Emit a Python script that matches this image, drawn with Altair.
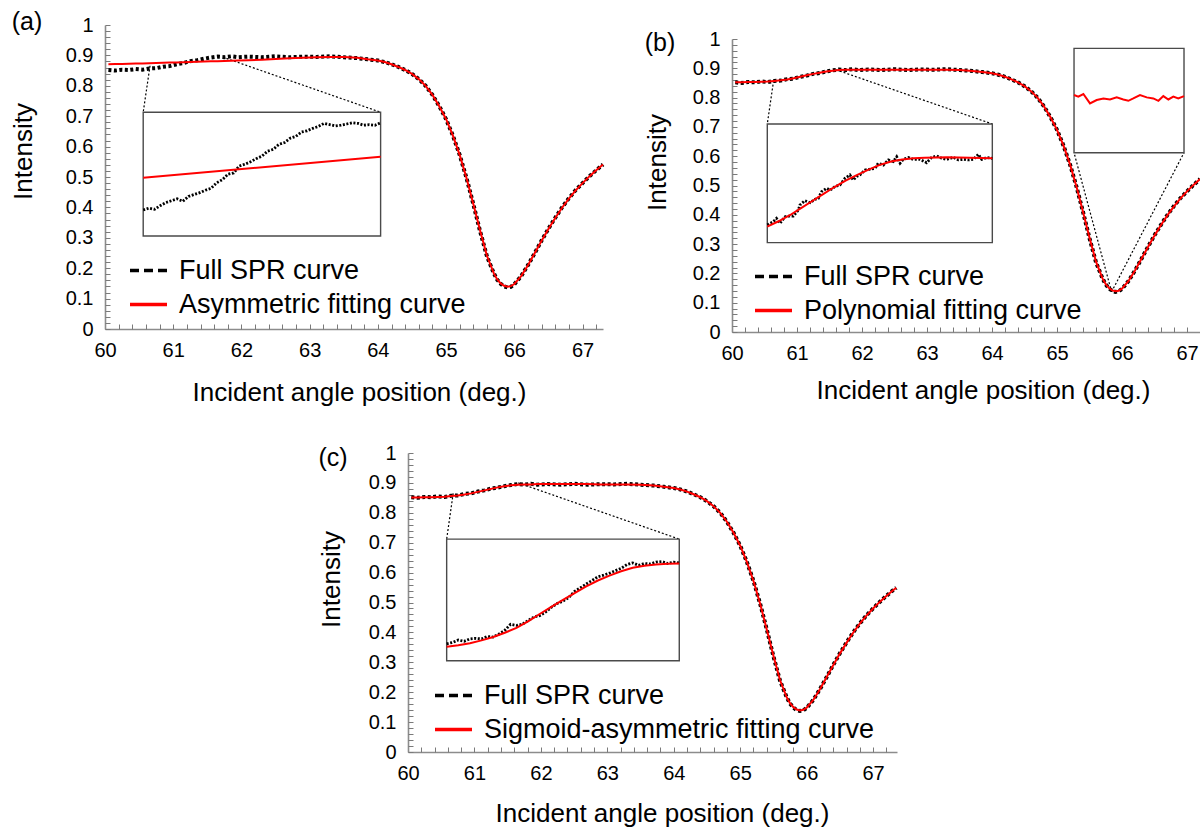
import altair as alt
import pandas as pd

W, H = 1200, 828
FONT = "Liberation Sans"
GREY = "#8c8c8c"
TICK_GREY = "#7a7a7a"
RED = "#ff0000"
SPR_LABEL = "Full SPR curve"

# ---------------- measured SPR reflectance curve (shared by all panels) -------------
ANGLE = [60.05, 60.15, 60.25, 60.35, 60.45, 60.55, 60.65, 60.75, 60.85, 60.95,
         61.05, 61.15, 61.25, 61.35, 61.45, 61.55, 61.65, 61.75, 61.85, 61.95,
         62.1, 62.3, 62.5, 62.7, 62.9, 63.1, 63.3, 63.5, 63.7,
         63.85, 64.0,
         64.1, 64.2, 64.3, 64.4, 64.5, 64.6, 64.7, 64.8, 64.9, 65.0,
         65.1, 65.2, 65.3, 65.4, 65.5, 65.6, 65.7,
         65.75, 65.8, 65.85, 65.9, 65.95, 66.0,
         66.1, 66.2, 66.3, 66.4, 66.5, 66.6, 66.7, 66.8, 66.9, 67.0, 67.1, 67.2, 67.3,
         67.35]

SPR = [0.852, 0.850, 0.853, 0.852, 0.855, 0.853, 0.857, 0.858, 0.863, 0.865,
       0.871, 0.875, 0.881, 0.884, 0.889, 0.893, 0.896, 0.894, 0.897, 0.894,
       0.896, 0.894, 0.897, 0.894, 0.896, 0.895, 0.897, 0.894, 0.891,
       0.887, 0.883,
       0.878, 0.871, 0.862, 0.852, 0.839, 0.822, 0.800, 0.770, 0.733, 0.690,
       0.636, 0.572, 0.496, 0.410, 0.320, 0.238, 0.183,
       0.162, 0.149, 0.140, 0.137, 0.139, 0.147,
       0.174, 0.210, 0.250, 0.291, 0.330, 0.366, 0.400, 0.430, 0.457, 0.480, 0.502, 0.522, 0.541,
       0.549]

FIT_ASYM = [0.871, 0.8715, 0.872, 0.8725, 0.873, 0.8737, 0.8744, 0.875, 0.8757, 0.8764,
            0.877, 0.8777, 0.8784, 0.879, 0.8797, 0.8804, 0.881, 0.8817, 0.8824, 0.883,
            0.884, 0.886, 0.888, 0.8905, 0.8925, 0.894, 0.8948, 0.8945, 0.892,
            0.887, 0.883,
            0.878, 0.871, 0.862, 0.852, 0.839, 0.822, 0.800, 0.770, 0.733, 0.690,
            0.636, 0.572, 0.496, 0.410, 0.322, 0.240, 0.183,
            0.163, 0.150, 0.142, 0.139, 0.141, 0.148,
            0.174, 0.210, 0.250, 0.290, 0.329, 0.365, 0.399, 0.429, 0.456, 0.480, 0.502, 0.522, 0.541,
            0.549]

FIT_POLY = [0.852, 0.852, 0.853, 0.853, 0.854, 0.855, 0.857, 0.859, 0.862, 0.866,
            0.871, 0.876, 0.881, 0.885, 0.889, 0.892, 0.894, 0.895, 0.895, 0.895,
            0.895, 0.895, 0.895, 0.895, 0.895, 0.895, 0.895, 0.894, 0.891,
            0.887, 0.883,
            0.878, 0.871, 0.862, 0.852, 0.839, 0.822, 0.800, 0.770, 0.733, 0.690,
            0.636, 0.572, 0.496, 0.410, 0.322, 0.240, 0.183,
            0.163, 0.150, 0.142, 0.139, 0.141, 0.148,
            0.174, 0.210, 0.250, 0.290, 0.329, 0.365, 0.399, 0.429, 0.456, 0.480, 0.502, 0.522, 0.541,
            0.549]

FIT_SIGMOID = [0.851, 0.851, 0.852, 0.852, 0.853, 0.854, 0.856, 0.858, 0.861, 0.865,
               0.870, 0.875, 0.880, 0.885, 0.889, 0.892, 0.894, 0.895, 0.895, 0.896,
               0.896, 0.896, 0.896, 0.896, 0.895, 0.895, 0.895, 0.894, 0.891,
               0.887, 0.883,
               0.878, 0.871, 0.862, 0.852, 0.839, 0.822, 0.800, 0.770, 0.733, 0.690,
               0.636, 0.572, 0.496, 0.410, 0.322, 0.240, 0.183,
               0.163, 0.150, 0.142, 0.139, 0.141, 0.148,
               0.174, 0.210, 0.250, 0.290, 0.329, 0.365, 0.399, 0.429, 0.456, 0.480, 0.502, 0.522, 0.541,
               0.549]

# ---------------- zoomed rising edge, panel (a) ----------------
ZA_ANGLE = [60.650, 60.675, 60.700, 60.725, 60.750, 60.775, 60.800, 60.825, 60.850, 60.875,
            60.900, 60.925, 60.950, 60.975, 61.000, 61.025, 61.050, 61.075, 61.100, 61.125,
            61.150, 61.175, 61.200, 61.225, 61.250, 61.275, 61.300, 61.325, 61.350, 61.375,
            61.400, 61.425, 61.450, 61.475, 61.500, 61.525, 61.550, 61.575, 61.600, 61.625,
            61.650, 61.675, 61.700]
ZA_SPR = [0.8526, 0.8535, 0.8529, 0.8547, 0.8562, 0.8571, 0.8580, 0.8568, 0.8592, 0.8601,
          0.8610, 0.8622, 0.8631, 0.8658, 0.8673, 0.8700, 0.8706, 0.8739, 0.8748, 0.8760,
          0.8775, 0.8787, 0.8811, 0.8820, 0.8844, 0.8853, 0.8874, 0.8883, 0.8904, 0.8910,
          0.8922, 0.8931, 0.8946, 0.8940, 0.8934, 0.8937, 0.8943, 0.8949, 0.8946, 0.8937,
          0.8940, 0.8937, 0.8949]
ZA_FIT_ANGLE = [60.65, 61.70]
ZA_FIT = [0.8682, 0.8784]

# ---------------- zoomed rising edge, panel (b) ----------------
ZB_ANGLE = [60.600, 60.627, 60.641, 60.656, 60.679, 60.701, 60.716, 60.738, 60.745, 60.767,
            60.790, 60.812, 60.827, 60.841, 60.864, 60.879, 60.901, 60.923, 60.945, 60.967,
            60.982, 60.997, 61.012, 61.034, 61.056, 61.079, 61.093, 61.116, 61.138, 61.160,
            61.175, 61.190, 61.204, 61.227, 61.249, 61.279, 61.308, 61.330, 61.353, 61.375,
            61.397, 61.427, 61.449, 61.471, 61.493, 61.516, 61.538, 61.553, 61.575, 61.600]
ZB_SPR = [0.8577, 0.8595, 0.8613, 0.8586, 0.8622, 0.8626, 0.8626, 0.8659, 0.8686, 0.8710,
          0.8699, 0.8717, 0.8723, 0.8759, 0.8778, 0.8768, 0.8787, 0.8796, 0.8832, 0.8851,
          0.8823, 0.8842, 0.8851, 0.8878, 0.8882, 0.8887, 0.8915, 0.8905, 0.8933, 0.8924,
          0.8951, 0.8915, 0.8936, 0.8946, 0.8936, 0.8936, 0.8918, 0.8946, 0.8955, 0.8942,
          0.8936, 0.8947, 0.8933, 0.8936, 0.8933, 0.8936, 0.8964, 0.8936, 0.8946, 0.8942]
ZB_FIT_ANGLE = [60.60, 60.65, 60.70, 60.75, 60.80, 60.85, 60.90, 60.95, 61.00, 61.05, 61.10,
                61.15, 61.20, 61.25, 61.30, 61.35, 61.40, 61.45, 61.50, 61.55, 61.60]
ZB_FIT = [0.8568, 0.8597, 0.8630, 0.8669, 0.8708, 0.8747, 0.8786, 0.8821, 0.8851, 0.8880, 0.8906,
          0.8924, 0.8935, 0.8942, 0.8945, 0.8947, 0.8948, 0.8947, 0.8945, 0.8943, 0.8942]
ZB_TICKS = [0.8568, 0.8723, 0.8878, 0.9033]

# polynomial fit around the resonance minimum, panel (b)
ZM_ANGLE = [65.8000, 65.8039, 65.8085, 65.8145, 65.8206, 65.8267, 65.8327, 65.8388, 65.8448, 65.8494,
            65.8539, 65.8600, 65.8661, 65.8721, 65.8767, 65.8812, 65.8858, 65.8903, 65.8948, 65.9000]
ZM_FIT = [0.14021, 0.14015, 0.14025, 0.13989, 0.14002, 0.14008, 0.14004, 0.14012, 0.14004, 0.13999,
          0.14008, 0.14021, 0.14012, 0.14008, 0.13999, 0.14017, 0.14004, 0.14015, 0.14008, 0.14017]

# ---------------- zoomed rising edge, panel (c) ----------------
ZC_ANGLE = [60.700, 60.725, 60.750, 60.775, 60.800, 60.825, 60.850, 60.875, 60.900, 60.925,
            60.950, 60.975, 61.000, 61.025, 61.050, 61.075, 61.100, 61.125, 61.150, 61.175,
            61.200, 61.225, 61.250, 61.275, 61.300, 61.325, 61.350, 61.375, 61.400, 61.425,
            61.450, 61.475, 61.500, 61.525, 61.550, 61.575, 61.600, 61.625, 61.650, 61.675,
            61.700]
ZC_SPR = [0.8571, 0.8578, 0.8591, 0.8584, 0.8597, 0.8600, 0.8597, 0.8610, 0.8607, 0.8623,
          0.8643, 0.8675, 0.8669, 0.8675, 0.8695, 0.8714, 0.8721, 0.8740, 0.8766, 0.8786,
          0.8799, 0.8818, 0.8851, 0.8870, 0.8890, 0.8909, 0.8929, 0.8938, 0.8948, 0.8961,
          0.8974, 0.8994, 0.9003, 0.8990, 0.9000, 0.8997, 0.9007, 0.9010, 0.9000, 0.9007,
          0.9003]
ZC_FIT_ANGLE = [60.70, 60.75, 60.80, 60.85, 60.90, 60.95, 61.00, 61.05, 61.10, 61.15, 61.20,
                61.25, 61.30, 61.35, 61.40, 61.45, 61.50, 61.55, 61.60, 61.65, 61.70]
ZC_FIT = [0.8555, 0.8563, 0.8574, 0.8589, 0.8607, 0.8630, 0.8656, 0.8691, 0.8730, 0.8768, 0.8805,
          0.8842, 0.8877, 0.8909, 0.8935, 0.8958, 0.8977, 0.8988, 0.8995, 0.8998, 0.9000]

X_MAJOR = [60, 61, 62, 63, 64, 65, 66, 67]
Y_MAJOR = [round(0.1 * i, 1) for i in range(11)]
Y_MINOR = [round(0.02 * i, 2) for i in range(51)]

# ---------------- panel geometry ----------------
PANELS = [
    dict(tag="(a)", tag_xy=(27, 22), xdom=(60, 67.3), xrng=(105, 603), yrng=(329, 25),
         fit=FIT_ASYM, fit_label="Asymmetric fitting curve",
         xtitle_xy=(359, 392), ytitle_xy=(23, 151), legend_xy=(128, 250),
         insets=[dict(box=(60.56, 64.04, 0.306, 0.713), dom_x=(60.65, 61.70), dom_y=(0.84, 0.90),
                      spr=(ZA_ANGLE, ZA_SPR), fit=(ZA_FIT_ANGLE, ZA_FIT), ticks=None,
                      links=[(60.66, 0.866, 60.56, 0.713), (61.78, 0.890, 64.04, 0.713)])]),
    dict(tag="(b)", tag_xy=(660, 43), xdom=(60, 67.2), xrng=(732, 1200), yrng=(332, 39),
         fit=FIT_POLY, fit_label="Polynomial  fitting curve",
         xtitle_xy=(983, 390), ytitle_xy=(657, 162), legend_xy=(753, 256),
         insets=[dict(box=(60.543, 64.005, 0.305, 0.710), dom_x=(60.6, 61.6), dom_y=(0.848, 0.913),
                      spr=(ZB_ANGLE, ZB_SPR), fit=(ZB_FIT_ANGLE, ZB_FIT), ticks=ZB_TICKS,
                      links=[(60.64, 0.858, 60.543, 0.710), (61.60, 0.895, 64.005, 0.710)]),
                 dict(box=(65.262, 66.954, 0.612, 0.968), dom_x=(65.80, 65.90), dom_y=(0.138, 0.142),
                      spr=None, fit=(ZM_ANGLE, ZM_FIT), ticks=None,
                      links=[(65.84, 0.137, 65.262, 0.612), (65.84, 0.137, 66.954, 0.612)])]),
    dict(tag="(c)", tag_xy=(333, 458), xdom=(60, 67.36), xrng=(408, 897), yrng=(752, 453),
         fit=FIT_SIGMOID, fit_label="Sigmoid-asymmetric fitting curve",
         xtitle_xy=(662, 813), ytitle_xy=(331, 579), legend_xy=(433, 675),
         insets=[dict(box=(60.582, 64.083, 0.305, 0.712), dom_x=(60.7, 61.7), dom_y=(0.848, 0.913),
                      spr=(ZC_ANGLE, ZC_SPR), fit=(ZC_FIT_ANGLE, ZC_FIT), ticks=None,
                      links=[(60.68, 0.865, 60.582, 0.712), (61.66, 0.900, 64.083, 0.712)])]),
]


def scale(dom, rng):
    return alt.Scale(domain=list(dom), range=list(rng), nice=False, zero=False)


def px_x(p, a):
    (d0, d1), (r0, r1) = p["xdom"], p["xrng"]
    return r0 + (a - d0) / (d1 - d0) * (r1 - r0)


def px_y(p, v):
    r0, r1 = p["yrng"]
    return r0 + v * (r1 - r0)


def series(angles, values, hi=None):
    rows = [(a, v) for a, v in zip(angles, values) if hi is None or a <= hi + 1e-9]
    return pd.DataFrame(rows, columns=["angle", "intensity"])


def line(df, xs, ys, **mark):
    return alt.Chart(df).mark_line(**mark).encode(
        x=alt.X("angle:Q", scale=xs, axis=None),
        y=alt.Y("intensity:Q", scale=ys, axis=None),
    )


def panel_layers(p):
    xs = scale(p["xdom"], p["xrng"])
    ys = scale((0, 1), p["yrng"])
    x0, y0 = p["xrng"][0], p["yrng"][0]
    frame = pd.DataFrame({"angle": list(p["xdom"]), "intensity": [0.0, 1.0]})
    out = []

    # main axes: labels, titles and axis lines
    out.append(alt.Chart(frame).mark_point(opacity=0).encode(
        x=alt.X("angle:Q", scale=xs, axis=alt.Axis(
            orient="bottom", offset=y0 - H, values=X_MAJOR, format="d", ticks=False, grid=False,
            domainColor=GREY, domainWidth=1.6, labelFont=FONT, labelFontSize=20,
            labelColor="black", labelPadding=11, labelFlush=False, labelOverlap=False,
            title="Incident angle position (deg.)", titleFont=FONT, titleFontSize=26,
            titleFontWeight="normal", titleColor="black", titleAlign="center",
            titleBaseline="middle", titleX=p["xtitle_xy"][0], titleY=p["xtitle_xy"][1] - y0)),
        y=alt.Y("intensity:Q", scale=ys, axis=alt.Axis(
            orient="left", offset=-x0, values=Y_MAJOR, format=".1~f", ticks=False, grid=False,
            domainColor=GREY, domainWidth=1.6, labelFont=FONT, labelFontSize=20,
            labelColor="black", labelPadding=12, labelFlush=False, labelOverlap=False,
            title="Intensity", titleFont=FONT, titleFontSize=26, titleFontWeight="normal",
            titleColor="black", titleAngle=270, titleAlign="center", titleBaseline="middle",
            titleX=p["ytitle_xy"][0] - x0, titleY=p["ytitle_xy"][1])),
    ))

    # minor ticks pointing into the plot
    x_minor = [round(60 + 0.2 * i, 1) for i in range(40) if 60 + 0.2 * i <= p["xdom"][1] + 1e-9]
    out.append(alt.Chart(frame).mark_point(opacity=0).encode(
        x=alt.X("angle:Q", scale=xs, axis=alt.Axis(
            orient="top", offset=-y0, values=x_minor, labels=False, domain=False, grid=False,
            ticks=True, tickSize=5, tickColor=TICK_GREY, tickWidth=1, title=None)),
        y=alt.Y("intensity:Q", scale=ys, axis=alt.Axis(
            orient="right", offset=x0 - W, values=Y_MINOR, labels=False, domain=False, grid=False,
            ticks=True, tickSize=5, tickColor=TICK_GREY, tickWidth=1, title=None)),
    ))

    # zoom boxes with their leader lines
    for ins in p["insets"]:
        bx0, bx1, by0, by1 = ins["box"]
        links = pd.DataFrame(ins["links"], columns=["a0", "v0", "a1", "v1"])
        out.append(alt.Chart(links).mark_rule(color="black", strokeWidth=1.2, strokeDash=[2, 2]).encode(
            x=alt.X("a0:Q", scale=xs, axis=None), x2="a1:Q",
            y=alt.Y("v0:Q", scale=ys, axis=None), y2="v1:Q"))
        box = pd.DataFrame({"a0": [bx0], "a1": [bx1], "v0": [by0], "v1": [by1]})
        out.append(alt.Chart(box).mark_rect(fill="white", stroke="#4a4a4a", strokeWidth=1.4).encode(
            x=alt.X("a0:Q", scale=xs, axis=None), x2="a1:Q",
            y=alt.Y("v0:Q", scale=ys, axis=None), y2="v1:Q"))

    # main curves
    out.append(line(series(ANGLE, SPR, p["xdom"][1]), xs, ys,
                    color="black", strokeWidth=4, strokeDash=[3, 2.5]))
    out.append(line(series(ANGLE, p["fit"], p["xdom"][1]), xs, ys, color=RED, strokeWidth=2))

    # zoomed views
    for ins in p["insets"]:
        bx0, bx1, by0, by1 = ins["box"]
        ixs = scale(ins["dom_x"], (px_x(p, bx0), px_x(p, bx1)))
        iys = scale(ins["dom_y"], (px_y(p, by0), px_y(p, by1)))
        if ins["ticks"]:
            tick_frame = pd.DataFrame({"angle": list(ins["dom_x"]), "intensity": list(ins["dom_y"])})
            out.append(alt.Chart(tick_frame).mark_point(opacity=0).encode(
                x=alt.X("angle:Q", scale=ixs, axis=None),
                y=alt.Y("intensity:Q", scale=iys, axis=alt.Axis(
                    orient="left", offset=-px_x(p, bx1), values=ins["ticks"], labels=False,
                    domain=False, grid=False, ticks=True, tickSize=4, tickColor="#555555",
                    tickWidth=1, title=None))))
        if ins["spr"]:
            out.append(line(series(*ins["spr"]), ixs, iys,
                            color="black", strokeWidth=2.8, strokeDash=[2, 1.6]))
        out.append(line(series(*ins["fit"]), ixs, iys, color=RED, strokeWidth=2))

    # legend
    labels = [SPR_LABEL, p["fit_label"]]
    leg = dict(orient="none", legendX=p["legend_xy"][0], legendY=p["legend_xy"][1], title=None,
               direction="vertical", symbolType="stroke", symbolSize=37 * 37,
               symbolStrokeWidth=3.5, labelFont=FONT, labelFontSize=27, labelColor="black",
               labelOffset=10, labelLimit=700, rowPadding=-7, padding=0)
    key = pd.DataFrame({"u": [0.0, 0.0], "v": [0.0, 0.0], "series": labels})
    out.append(alt.Chart(key).mark_line(strokeWidth=3.5).encode(
        x=alt.X("u:Q", scale=scale((0, 1), (-80, -70)), axis=None),
        y=alt.Y("v:Q", scale=scale((0, 1), (-80, -70)), axis=None),
        color=alt.Color("series:N", scale=alt.Scale(domain=labels, range=["black", RED]),
                        legend=alt.Legend(**leg)),
        strokeDash=alt.StrokeDash("series:N", scale=alt.Scale(domain=labels, range=[[9, 5], [1, 0]]),
                                  legend=alt.Legend(**leg)),
    ))

    # panel tag
    out.append(alt.Chart(pd.DataFrame({"t": [p["tag"]]})).mark_text(
        font=FONT, fontSize=25, color="black", align="center", baseline="middle").encode(
        x=alt.value(p["tag_xy"][0]), y=alt.value(p["tag_xy"][1]), text="t:N"))
    return out


layers = []
for panel in PANELS:
    layers.extend(panel_layers(panel))

chart = (
    alt.layer(*layers)
    .resolve_scale(x="independent", y="independent", color="independent", strokeDash="independent")
    .properties(width=W, height=H, autosize=alt.AutoSizeParams(type="none"), padding=0,
                background="white")
    .configure_view(stroke=None)
)

chart.save("out.html", embed_options={"renderer": "svg", "actions": False})
